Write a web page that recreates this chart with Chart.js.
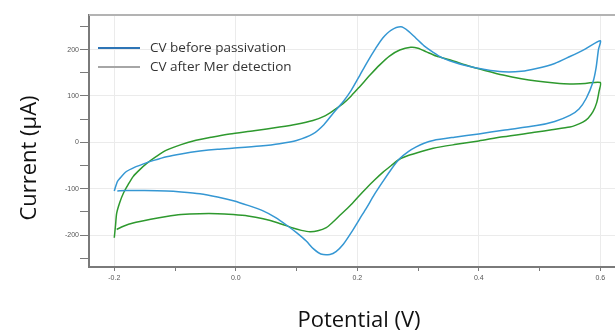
<!DOCTYPE html>
<html>
<head>
<meta charset="utf-8">
<script src="https://cdn.jsdelivr.net/npm/chart.js@4.4.0/dist/chart.umd.min.js"></script>
<style>
  html, body { margin: 0; padding: 0; background: #fff; overflow: hidden; }
  #wrap { width: 615px; height: 332px; overflow: hidden; }
</style>
</head>
<body>
<div id="wrap"><canvas id="chart" width="625" height="332"></canvas></div>
<script>
// CV before passivation: forward scan then reverse scan
const beforeV = [-0.200, -0.195, -0.191, -0.180, -0.165, -0.153, -0.135, -0.114, -0.090, -0.059, -0.030, 0.003, 0.040, 0.072, 0.100, 0.127, 0.145, 0.160, 0.177, 0.190, 0.204, 0.216, 0.230, 0.242, 0.256, 0.272, 0.284, 0.297, 0.310, 0.325, 0.340, 0.352, 0.380, 0.410, 0.440, 0.470, 0.495, 0.525, 0.550, 0.575, 0.600,
  0.597, 0.593, 0.588, 0.577, 0.565, 0.550, 0.525, 0.495, 0.440, 0.400, 0.360, 0.325, 0.310, 0.297, 0.284, 0.270, 0.256, 0.242, 0.228, 0.215, 0.204, 0.190, 0.177, 0.165, 0.155, 0.140, 0.128, 0.116, 0.100, 0.085, 0.065, 0.045, 0.020, -0.004, -0.030, -0.059, -0.090, -0.114, -0.150, -0.180, -0.195]
const beforeI = [-105, -85, -78, -63, -53, -47, -39, -31, -25, -19, -15, -12, -8, -3, 4, 18, 38, 62, 88, 112, 144, 172, 202, 225, 242, 249, 240, 224, 208, 194, 182, 176, 165, 157, 152, 153, 159, 170, 185, 201, 219,
  200, 160, 130, 95, 72, 58, 45, 36, 26, 18, 11, 4, -2, -10, -20, -35, -58, -85, -113, -142, -165, -195, -220, -236, -242, -241, -230, -213, -195, -180, -162, -148, -136, -126, -118, -111, -107, -105, -104, -104, -105]

// CV after Mer detection
const afterV = [-0.200, -0.198, -0.196, -0.191, -0.185, -0.177, -0.169, -0.158, -0.147, -0.130, -0.114, -0.090, -0.070, -0.040, -0.010, 0.030, 0.072, 0.100, 0.127, 0.145, 0.160, 0.177, 0.190, 0.204, 0.221, 0.237, 0.253, 0.270, 0.288, 0.300, 0.314, 0.330, 0.352, 0.385, 0.410, 0.440, 0.470, 0.495, 0.525, 0.550, 0.575, 0.600,
  0.598, 0.594, 0.588, 0.580, 0.572, 0.560, 0.550, 0.520, 0.495, 0.440, 0.400, 0.360, 0.325, 0.300, 0.285, 0.270, 0.256, 0.242, 0.228, 0.215, 0.204, 0.188, 0.171, 0.160, 0.149, 0.135, 0.122, 0.108, 0.094, 0.070, 0.045, 0.020, -0.004, -0.030, -0.059, -0.090, -0.114, -0.140, -0.169, -0.185, -0.196]
const afterI = [-206, -180, -153, -130, -110, -91, -74, -59, -46, -30, -17, -5, 3, 11, 18, 25, 33, 39, 47, 56, 68, 84, 100, 120, 145, 167, 186, 199, 205, 203, 195, 186, 178, 164, 155, 145, 137, 132, 128, 126, 127, 129,
  110, 85, 66, 52, 44, 37, 33, 27, 22, 12, 3, -5, -13, -22, -28, -36, -50, -65, -82, -99, -114, -137, -158, -172, -184, -191, -193, -190, -185, -174, -165, -159, -156, -154, -154, -156, -160, -166, -174, -181, -188]

const seriesNames = ["CV before passivation", "CV after Mer detection"]
const legendColors = ["#2e75b6", "#a6a6a6"]
const xTitle = "Potential (V)"
const yTitle = "Current (\u00b5A)"

const toPoints = (xs, ys) => xs.map((x, i) => ({x: x, y: ys[i]}))

const decorations = {
    id: "decorations",
    afterDraw(chart){
        const ctx = chart.ctx
        const area = chart.chartArea
        ctx.save()
        // top frame line
        ctx.strokeStyle = "#b3b3b3"
        ctx.lineWidth = 2
        ctx.beginPath()
        ctx.moveTo(area.left, area.top)
        ctx.lineTo(area.right, area.top)
        ctx.stroke()

        // legend
        ctx.font = "13.5px 'Open Sans'"
        ctx.textBaseline = "middle"
        ctx.textAlign = "left"
        seriesNames.forEach((name, i) => {
            const y = 48 + i * 19
            ctx.strokeStyle = legendColors[i]
            ctx.lineWidth = 2
            ctx.beginPath()
            ctx.moveTo(98, y)
            ctx.lineTo(140, y)
            ctx.stroke()
            ctx.fillStyle = "#333"
            ctx.fillText(name, 150, y)
        })

        // axis titles
        ctx.fillStyle = "#111"
        ctx.font = "22px 'Open Sans'"
        ctx.textAlign = "center"
        ctx.fillText(xTitle, 359, 321)
        ctx.translate(30, 158)
        ctx.rotate(-Math.PI / 2)
        ctx.fillText(yTitle, 0, 0)
        ctx.restore()
    }
}

const isMajorX = v => Math.abs(Math.round(v * 10)) % 2 === 0
const isMajorY = v => Math.abs(Math.round(v)) % 100 === 0

new Chart(document.getElementById("chart"), {
    type: "scatter",
    data: {
        datasets: [
            {
                label: seriesNames[0],
                data: toPoints(beforeV, beforeI),
                showLine: true,
                borderColor: "#3597d3",
                borderWidth: 1.5,
                pointRadius: 0,
                tension: 0.25,
            },
            {
                label: seriesNames[1],
                data: toPoints(afterV, afterI),
                showLine: true,
                borderColor: "#2e992e",
                borderWidth: 1.5,
                pointRadius: 0,
                tension: 0.25,
            },
        ]
    },
    options: {
        responsive: false,
        animation: false,
        devicePixelRatio: 1,
        layout: { padding: { top: 15, left: 0, right: 0, bottom: 0 } },
        plugins: {
            legend: { display: false },
            tooltip: { enabled: false },
        },
        scales: {
            x: {
                type: "linear",
                min: -0.2416,
                max: 0.6407,
                afterFit: (scale) => { scale.height = 65 },
                border: { color: "#7a7a7a", width: 2 },
                grid: {
                    color: (c) => isMajorX(c.tick.value) ? "#ebebeb" : "rgba(0,0,0,0)",
                    tickColor: "#7a7a7a",
                    tickLength: 4,
                },
                ticks: {
                    stepSize: 0.1,
                    includeBounds: false,
                    autoSkip: false,
                    maxRotation: 0,
                    padding: 3,
                    color: "#555",
                    font: { size: 7, family: "'Liberation Sans'" },
                    callback: (v) => isMajorX(v) ? Number(v).toFixed(1) : "",
                },
            },
            y: {
                type: "linear",
                min: -269,
                max: 274.6,
                afterFit: (scale) => { scale.width = 89 },
                border: { color: "#7a7a7a", width: 2 },
                grid: {
                    color: (c) => isMajorY(c.tick.value) ? "#ebebeb" : "rgba(0,0,0,0)",
                    tickColor: "#7a7a7a",
                    tickLength: 9,
                },
                ticks: {
                    stepSize: 50,
                    includeBounds: false,
                    autoSkip: false,
                    padding: 1,
                    color: "#555",
                    font: { size: 7, family: "'Liberation Sans'" },
                    callback: (v) => isMajorY(v) ? String(v) : "",
                },
            },
        },
    },
    plugins: [decorations],
})
</script>
</body>
</html>
